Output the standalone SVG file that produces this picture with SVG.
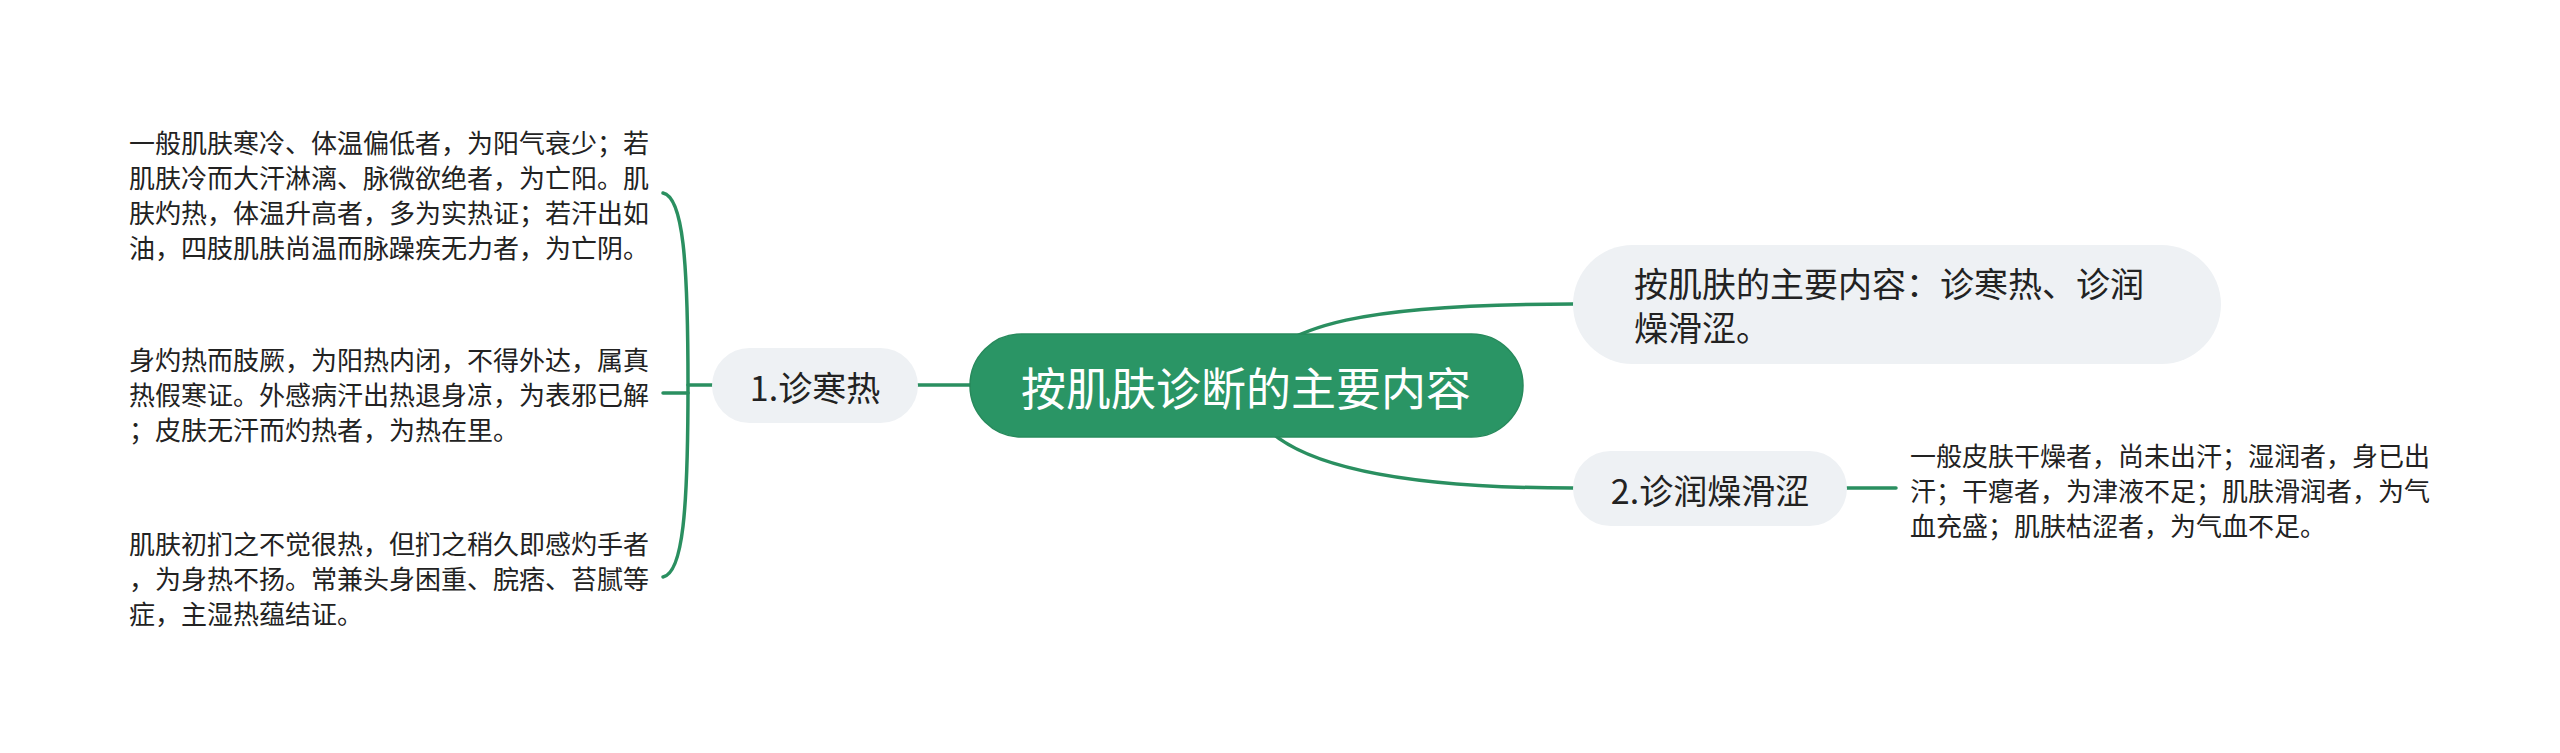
<svg xmlns="http://www.w3.org/2000/svg" width="2560" height="753" viewBox="0 0 2560 753">
  <style>
    .t { font-family: "Noto Sans CJK SC", "Noto Sans", sans-serif; fill: #222; }
    .d { font-size: 26px; }
    .n { font-size: 34px; }
    .c { font-size: 45px; fill: #ffffff; }
    .sub { fill: #eef1f4; }
    .ln { fill: none; stroke: #2a8f60; stroke-width: 3.5; stroke-linecap: round; }
  </style>
  <rect width="2560" height="753" fill="#ffffff"/>
  <g id="connectors">
    <path class="ln" d="M1246,385 C1270,320 1380,304 1573,304"/>
    <path class="ln" d="M1246,385 C1250,460 1380,488 1573,488"/>
    <path class="ln" d="M918,385 L970,385"/>
    <path class="ln" d="M688,385 L712,385"/>
    <path class="ln" d="M663,193 C683,197 688,260 688,385 C688,510 683,573 663,577"/>
    <path class="ln" d="M663,393 L688,393"/>
    <path class="ln" d="M1847,488 L1896,488"/>
  </g>
  <g id="root">
    <rect x="970" y="334" width="553" height="103" rx="51.5" fill="#2a9565" stroke="#278a5c" stroke-width="1.5"/>
    <text class="t c" x="1246" y="386" text-anchor="middle" dominant-baseline="central">按肌肤诊断的主要内容</text>
  </g>
  <g id="node-summary">
    <rect class="sub" x="1573" y="245" width="648" height="119" rx="59.5"/>
    <text class="t n" x="1634" y="282" dominant-baseline="central">按肌肤的主要内容：诊寒热、诊润</text>
    <text class="t n" x="1634" y="326" dominant-baseline="central">燥滑涩。</text>
  </g>
  <g id="node-1">
    <rect class="sub" x="712" y="348" width="206" height="75" rx="37.5"/>
    <text class="t n" x="815" y="386" text-anchor="middle" dominant-baseline="central">1.诊寒热</text>
  </g>
  <g id="node-2">
    <rect class="sub" x="1573" y="451" width="274" height="75" rx="37.5"/>
    <text class="t n" x="1710" y="489" text-anchor="middle" dominant-baseline="central">2.诊润燥滑涩</text>
  </g>
  <g id="text-1a">
    <text class="t d" x="129" y="141" dominant-baseline="central">一般肌肤寒冷、体温偏低者，为阳气衰少；若</text>
    <text class="t d" x="129" y="176" dominant-baseline="central">肌肤冷而大汗淋漓、脉微欲绝者，为亡阳。肌</text>
    <text class="t d" x="129" y="211" dominant-baseline="central">肤灼热，体温升高者，多为实热证；若汗出如</text>
    <text class="t d" x="129" y="246" dominant-baseline="central">油，四肢肌肤尚温而脉躁疾无力者，为亡阴。</text>
  </g>
  <g id="text-1b">
    <text class="t d" x="129" y="358" dominant-baseline="central">身灼热而肢厥，为阳热内闭，不得外达，属真</text>
    <text class="t d" x="129" y="393" dominant-baseline="central">热假寒证。外感病汗出热退身凉，为表邪已解</text>
    <text class="t d" x="129" y="428" dominant-baseline="central">；皮肤无汗而灼热者，为热在里。</text>
  </g>
  <g id="text-1c">
    <text class="t d" x="129" y="542" dominant-baseline="central">肌肤初扪之不觉很热，但扪之稍久即感灼手者</text>
    <text class="t d" x="129" y="577" dominant-baseline="central">，为身热不扬。常兼头身困重、脘痞、苔腻等</text>
    <text class="t d" x="129" y="612" dominant-baseline="central">症，主湿热蕴结证。</text>
  </g>
  <g id="text-2">
    <text class="t d" x="1910" y="454" dominant-baseline="central">一般皮肤干燥者，尚未出汗；湿润者，身已出</text>
    <text class="t d" x="1910" y="489" dominant-baseline="central">汗；干瘪者，为津液不足；肌肤滑润者，为气</text>
    <text class="t d" x="1910" y="524" dominant-baseline="central">血充盛；肌肤枯涩者，为气血不足。</text>
  </g>
</svg>
